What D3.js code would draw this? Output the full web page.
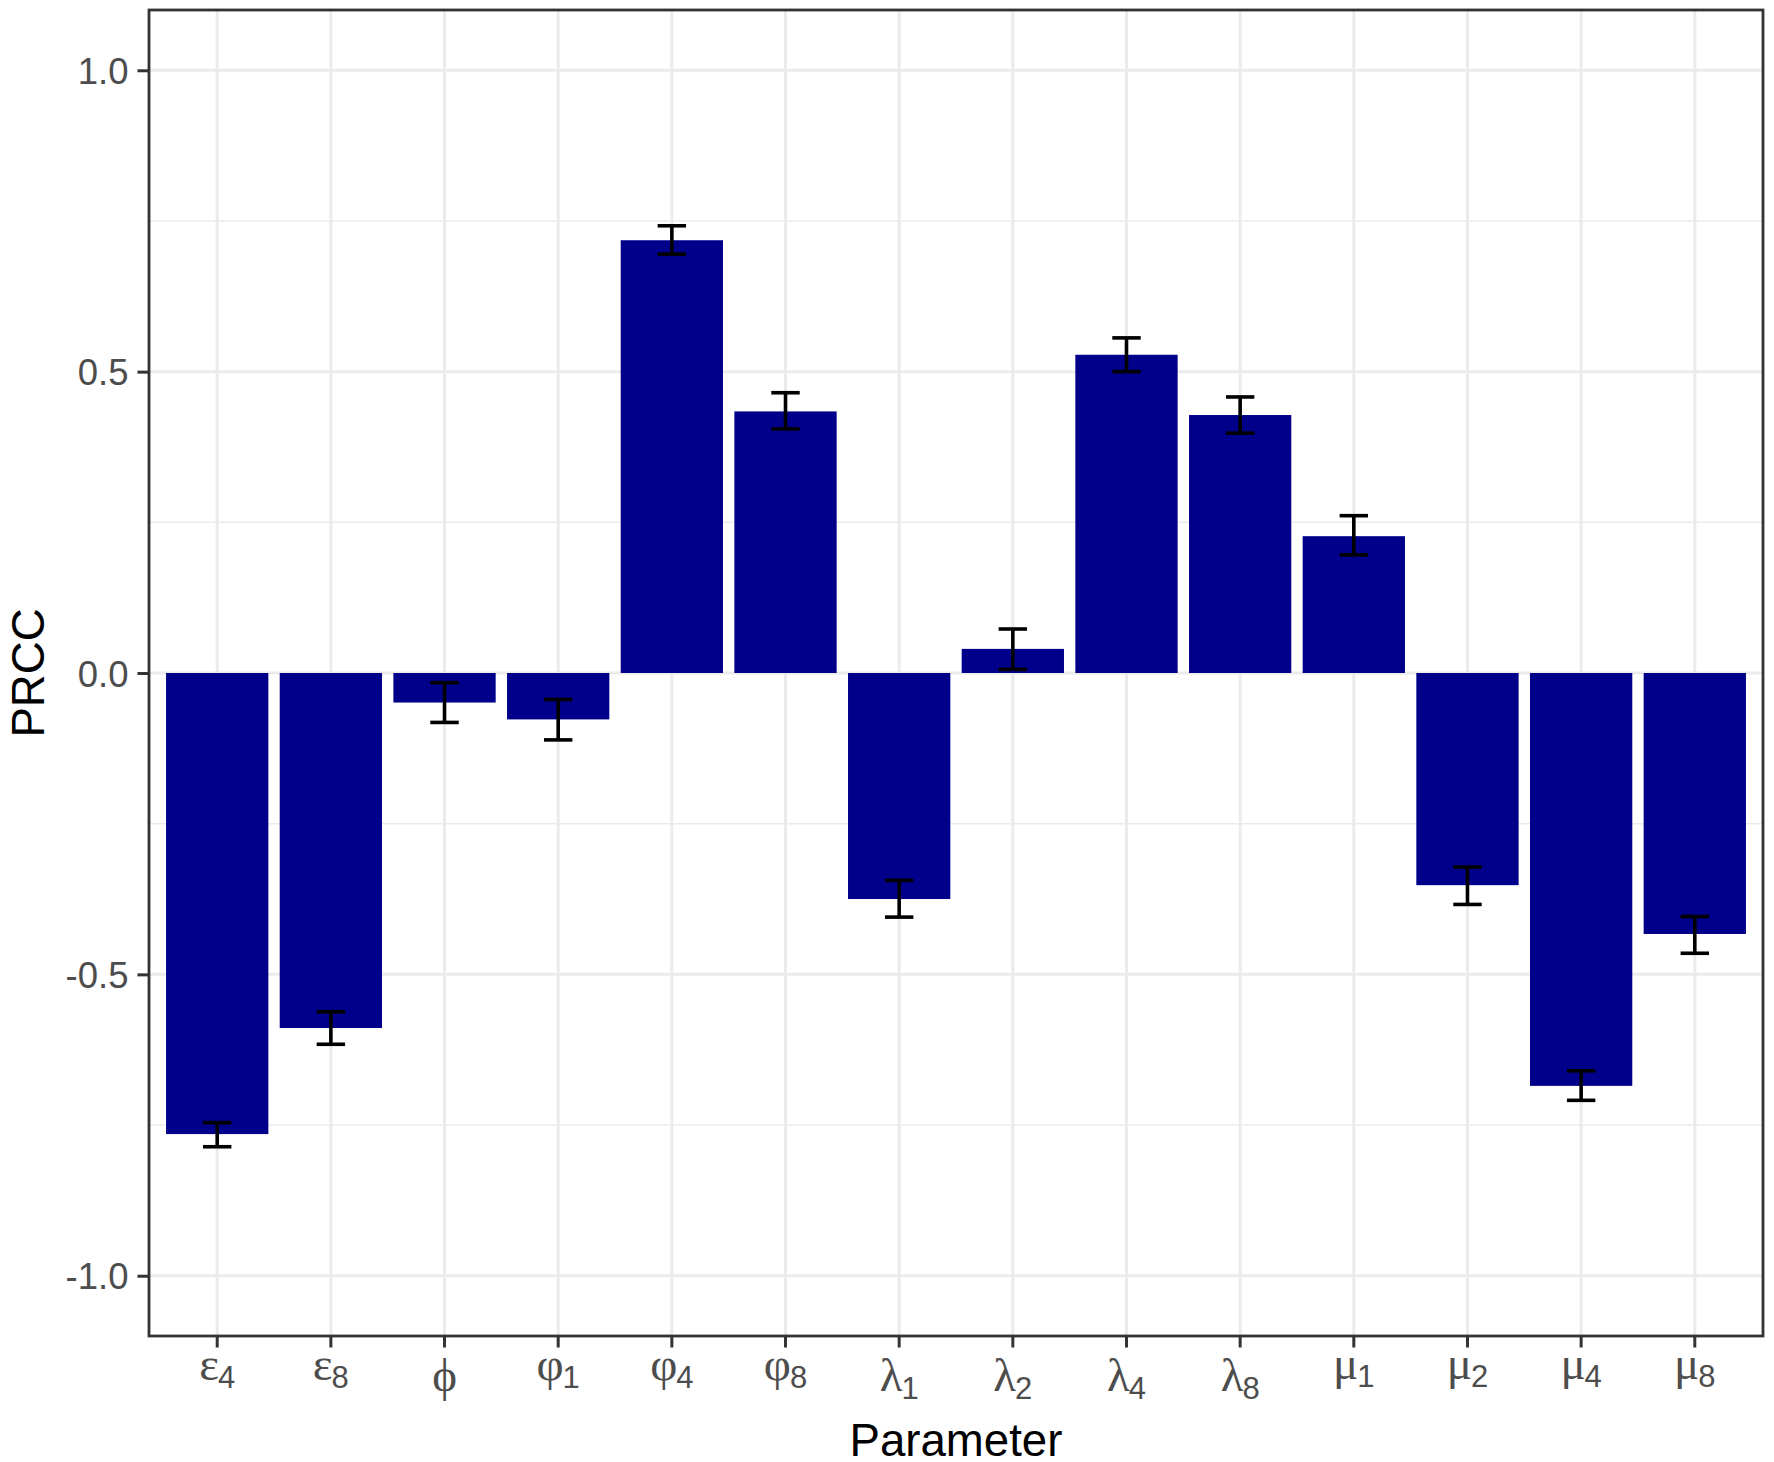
<!DOCTYPE html>
<html>
<head>
<meta charset="utf-8">
<script src="https://cdnjs.cloudflare.com/ajax/libs/d3/7.8.5/d3.min.js"></script>
<style>
  html, body { margin: 0; padding: 0; background: #fff; }
  svg { display: block; }
</style>
</head>
<body>
<svg id="chart" width="1774" height="1462" viewBox="0 0 1774 1462"></svg>
<script>
/* ── data ─────────────────────────────────────────────────────────────────── */

const symbols = ["ε", "ε", "ϕ", "φ", "φ", "φ", "λ", "λ", "λ", "λ", "μ", "μ", "μ", "μ"];
const subscripts = ["4", "8", "", "1", "4", "8", "1", "2", "4", "8", "1", "2", "4", "8"];
const prcc = [-0.765, -0.589, -0.049, -0.077, 0.718, 0.434, -0.375, 0.040, 0.528, 0.428, 0.227, -0.352, -0.685, -0.433];
const lower = [-0.786, -0.616, -0.082, -0.111, 0.695, 0.405, -0.405, 0.006, 0.500, 0.398, 0.196, -0.384, -0.709, -0.465];
const upper = [-0.746, -0.562, -0.016, -0.044, 0.742, 0.465, -0.344, 0.073, 0.556, 0.458, 0.261, -0.322, -0.660, -0.404];
const yTicks = [-1.0, -0.5, 0.0, 0.5, 1.0];
const yMinor = [-0.75, -0.25, 0.25, 0.75];
const xTitle = "Parameter";
const yTitle = "PRCC";

/* ── layout ───────────────────────────────────────────────────────────────── */

const svg = d3.select("#chart");
const m = { top: 10, right: 11, bottom: 126, left: 149 };
const W = 1774 - m.left - m.right;
const H = 1462 - m.top - m.bottom;
const SANS = "'Liberation Sans', Arial, sans-serif";
const SERIF = "'Liberation Serif', 'Times New Roman', serif";

const ids = symbols.map((s, i) => i);
const rows = ids.map((i) => ({ i, v: prcc[i], lo: lower[i], hi: upper[i] }));

// ggplot discrete scale: 0.6 unit expansion each side, bar width 0.9
const x = d3.scaleBand().domain(ids).range([0, W]).paddingInner(0.1).paddingOuter(0.15);
const y = d3.scaleLinear().domain([-1.1, 1.1]).range([H, 0]);
const cx = (i) => x(i) + x.bandwidth() / 2;
const step = x.step();

svg.append("rect").attr("width", 1774).attr("height", 1462).attr("fill", "#fff");

const g = svg.append("g").attr("transform", `translate(${m.left},${m.top})`);

/* ── grid ─────────────────────────────────────────────────────────────────── */

const grid = g.append("g");
grid.selectAll("line.minor").data(yMinor).enter().append("line")
  .attr("x1", 0).attr("x2", W)
  .attr("y1", (d) => y(d)).attr("y2", (d) => y(d))
  .attr("stroke", "#EBEBEB").attr("stroke-width", 1.6);
grid.selectAll("line.major").data(yTicks).enter().append("line")
  .attr("x1", 0).attr("x2", W)
  .attr("y1", (d) => y(d)).attr("y2", (d) => y(d))
  .attr("stroke", "#EBEBEB").attr("stroke-width", 3);
grid.selectAll("line.xgrid").data(ids).enter().append("line")
  .attr("x1", cx).attr("x2", cx)
  .attr("y1", 0).attr("y2", H)
  .attr("stroke", "#EBEBEB").attr("stroke-width", 3);

/* ── bars + error bars ────────────────────────────────────────────────────── */

g.selectAll("rect.bar").data(rows).enter().append("rect")
  .attr("class", "bar")
  .attr("x", (d) => x(d.i))
  .attr("width", x.bandwidth())
  .attr("y", (d) => y(Math.max(0, d.v)))
  .attr("height", (d) => Math.abs(y(d.v) - y(0)))
  .attr("fill", "#00008B");

const capHalf = (0.25 * step) / 2;
const eb = g.selectAll("g.err").data(rows).enter().append("g")
  .attr("stroke", "#000").attr("stroke-width", 3.6).attr("fill", "none");
eb.append("line")
  .attr("x1", (d) => cx(d.i)).attr("x2", (d) => cx(d.i))
  .attr("y1", (d) => y(d.lo)).attr("y2", (d) => y(d.hi));
eb.append("line")
  .attr("x1", (d) => cx(d.i) - capHalf).attr("x2", (d) => cx(d.i) + capHalf)
  .attr("y1", (d) => y(d.lo)).attr("y2", (d) => y(d.lo));
eb.append("line")
  .attr("x1", (d) => cx(d.i) - capHalf).attr("x2", (d) => cx(d.i) + capHalf)
  .attr("y1", (d) => y(d.hi)).attr("y2", (d) => y(d.hi));

/* ── panel border ─────────────────────────────────────────────────────────── */

g.append("rect")
  .attr("width", W).attr("height", H)
  .attr("fill", "none").attr("stroke", "#333333").attr("stroke-width", 2.8);

/* ── axes ─────────────────────────────────────────────────────────────────── */

const yAxis = g.append("g")
  .call(d3.axisLeft(y).tickValues(yTicks).tickSize(11.5).tickPadding(9)
    .tickFormat((d) => d.toFixed(1)));
yAxis.select(".domain").remove();
yAxis.selectAll(".tick line").attr("stroke", "#333333").attr("stroke-width", 3);
yAxis.selectAll(".tick text")
  .attr("fill", "#4D4D4D").attr("font-family", SANS).attr("font-size", 36.5)
  .attr("dy", "0.36em");

const xAxis = g.append("g")
  .attr("transform", `translate(0,${H})`)
  .call(d3.axisBottom(x).tickSize(11.5).tickFormat(() => ""));
xAxis.select(".domain").remove();
xAxis.selectAll(".tick line").attr("stroke", "#333333").attr("stroke-width", 3);
xAxis.selectAll(".tick text").remove();

// plotmath-style labels: greek symbol + sans subscript, top-aligned by ink
const ctx = document.createElement("canvas").getContext("2d");
const greekSize = 47, subSize = 31, subDrop = 8, labelTop = 22;
function ascent(str, font) {
  if (!str) return 0;
  ctx.font = font;
  return ctx.measureText(str).actualBoundingBoxAscent;
}
xAxis.selectAll(".tick").each(function (i) {
  const a = Math.max(
    ascent(symbols[i], `${greekSize}px ${SERIF}`),
    ascent(subscripts[i], `${subSize}px ${SANS}`) - subDrop,
  );
  const t = d3.select(this).append("text")
    .attr("y", labelTop + a)
    .attr("text-anchor", "middle")
    .attr("fill", "#4D4D4D");
  t.append("tspan").attr("font-family", SERIF).attr("font-size", greekSize).text(symbols[i]);
  if (subscripts[i]) {
    t.append("tspan").attr("font-family", SANS).attr("font-size", subSize)
      .attr("dy", subDrop).attr("dx", -1).text(subscripts[i]);
  }
});

/* ── titles ───────────────────────────────────────────────────────────────── */

svg.append("text")
  .attr("x", m.left + W / 2).attr("y", 1456)
  .attr("text-anchor", "middle")
  .attr("font-family", SANS).attr("font-size", 45.6).attr("fill", "#000")
  .text(xTitle);

svg.append("text")
  .attr("transform", `translate(44,${m.top + H / 2}) rotate(-90)`)
  .attr("text-anchor", "middle")
  .attr("font-family", SANS).attr("font-size", 45.6).attr("fill", "#000")
  .text(yTitle);
</script>
</body>
</html>
